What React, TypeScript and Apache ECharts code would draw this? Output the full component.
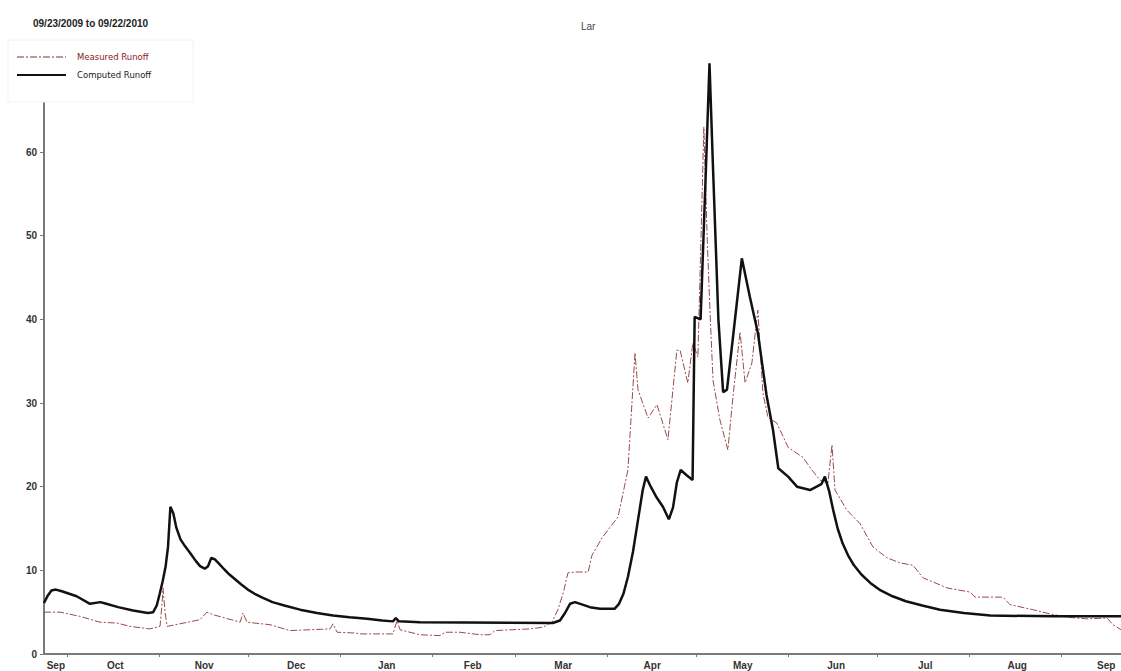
import React, { useEffect, useRef } from "react";
import * as echarts from "echarts";

// Days since 09/23/2009
const computedDays = [0, 1.3, 2.5, 4, 6, 11, 15.5, 19, 21, 25, 30, 35, 36.8, 38, 39, 40, 41, 41.8, 42.6, 43.6, 44.6, 46, 47.5, 49.2, 51.2, 52.6, 54.2, 55.3, 56.4, 57.6, 59.2, 60.8, 62.5, 64.5, 66.5, 68.7, 71, 73.8, 77, 81, 86.3, 92, 97.4, 103, 108.9, 114, 117.6, 118.6, 119.6, 126.7, 171.5, 173.9, 175.6, 177.3, 179, 184, 187.4, 192.3, 193.8, 195.3, 196.8, 198.5, 200.2, 201.8, 202.9, 204.5, 206.5, 208.6, 210.6, 212, 213.3, 214.6, 216.5, 218.6, 219.3, 221.3, 223.1, 224.3, 225.5, 227.3, 228.9, 230.2, 232.2, 235.2, 237.9, 240.6, 243.5, 245.7, 247.5, 250.8, 253.8, 258.2, 262, 263.2, 264.6, 266, 267.5, 269.2, 271, 273, 275.5, 278.5, 282, 286, 290.5, 296, 302, 310, 319, 340, 363];
const computedValues = [6.1, 7.0, 7.6, 7.7, 7.5, 6.9, 6.0, 6.2, 6.0, 5.6, 5.2, 4.9, 5.0, 5.8, 7.2, 8.7, 10.5, 12.8, 17.6, 16.8, 15.1, 13.7, 12.9, 12.1, 11.1, 10.5, 10.2, 10.5, 11.5, 11.3, 10.7, 10.1, 9.5, 8.9, 8.3, 7.7, 7.2, 6.7, 6.2, 5.8, 5.3, 4.9, 4.6, 4.4, 4.2, 4.0, 3.9, 4.3, 3.9, 3.8, 3.7, 4.0, 4.9, 6.0, 6.2, 5.6, 5.4, 5.4, 6.0, 7.2, 9.2, 12.2, 16.0, 19.6, 21.2, 20.0, 18.7, 17.6, 16.1, 17.5, 20.5, 22.0, 21.4, 20.8, 40.3, 40.0, 58, 70.6, 58, 40, 31.3, 31.6, 37.8, 47.3, 42.7, 38.4, 31, 26.8, 22.2, 21.2, 20.0, 19.6, 20.3, 21.2, 19.5, 17.2, 15.0, 13.2, 11.8, 10.6, 9.5, 8.5, 7.6, 6.9, 6.3, 5.8, 5.3, 4.9, 4.6, 4.5, 4.5];

const measuredDays = [0, 5.4, 12.1, 18.9, 24.6, 29, 35.7, 39.1, 39.8, 40.1, 40.8, 41.5, 52.6, 54.9, 57, 66.1, 67.1, 68.4, 76.2, 82.9, 96.4, 97.4, 98.8, 105.2, 106.5, 117.6, 119, 120, 126.7, 133.5, 135.2, 140.2, 147, 150.3, 152, 163.8, 168.2, 171.2, 173.2, 175, 176.6, 179, 183.4, 184.7, 188.1, 193.5, 196.8, 199.2, 200.2, 203.6, 206.6, 210.3, 213.3, 214.4, 217, 218.7, 220.4, 222.4, 223.5, 224.5, 225.5, 227.8, 230.5, 232.2, 234.6, 236.3, 238.6, 240.6, 242.3, 244, 247, 250.8, 255.8, 258.8, 261.5, 264.2, 265.6, 266.6, 270.6, 275, 279.4, 284.1, 288.5, 292.9, 296.3, 304.4, 312.1, 313.8, 323.2, 325.6, 333.3, 339, 344.8, 351.5, 358.3, 360.3, 363];
const measuredValues = [5.0, 5.0, 4.5, 3.8, 3.7, 3.3, 3.0, 3.3, 6.0, 7.9, 5.0, 3.3, 4.1, 5.0, 4.7, 3.8, 4.9, 3.8, 3.5, 2.8, 3.0, 3.6, 2.6, 2.5, 2.4, 2.4, 4.0, 2.9, 2.3, 2.2, 2.6, 2.6, 2.3, 2.3, 2.8, 3.0, 3.2, 3.8, 5.3, 7.3, 9.7, 9.8, 9.8, 11.8, 13.9, 16.4, 22, 36, 31.6, 28.2, 29.8, 25.6, 36.3, 36.3, 32.4, 37.2, 35.5, 63, 50, 40.7, 32.7, 28, 24.4, 30.7, 38.5, 32.4, 34.8, 41.1, 31.2, 28.3, 27.6, 24.7, 23.5, 22, 20.8, 20.4, 25, 19.6, 17.2, 15.6, 12.8, 11.5, 10.9, 10.6, 9.1, 7.9, 7.4, 6.8, 6.8, 5.9, 5.3, 4.8, 4.4, 4.2, 4.3, 3.5, 2.9];

const monthTickDays = [8, 39, 69, 100, 131, 159, 190, 220, 251, 281, 312, 343];
const monthLabelDays = [4, 24, 54, 85, 115.5, 144.5, 175, 205, 235.5, 267, 297, 328, 358];
const monthNames = ["Sep", "Oct", "Nov", "Dec", "Jan", "Feb", "Mar", "Apr", "May", "Jun", "Jul", "Aug", "Sep"];

const yTicks = [0, 10, 20, 30, 40, 50, 60];

export default function App() {
  const ref = useRef<HTMLDivElement>(null);
  useEffect(() => {
    if (!ref.current) return;
    const chart = echarts.init(ref.current, null, { renderer: "svg" });
    const font = "'Liberation Sans', Arial, sans-serif";
    chart.setOption({
      animation: false,
      backgroundColor: "#ffffff",
      title: [
        {
          text: "09/23/2009 to 09/22/2010",
          left: 28,
          top: 13,
          textStyle: { fontSize: 10, fontWeight: "bold", color: "#222", fontFamily: font },
        },
        {
          text: "Lar",
          left: 576,
          top: 16,
          textStyle: { fontSize: 10, fontWeight: "normal", color: "#444", fontFamily: font },
        },
      ],
      grid: { left: 44, right: 0, top: 60, bottom: 17, containLabel: false },
      xAxis: {
        type: "value",
        min: 0,
        max: 363,
        splitLine: { show: false },
        axisLine: { show: true, lineStyle: { color: "#7a7a7a", width: 2 } },
        axisTick: {
          show: true,
          customValues: monthTickDays,
          length: 3,
          lineStyle: { color: "#7a7a7a", width: 1 },
        },
        axisLabel: {
          customValues: monthLabelDays,
          margin: 6,
          fontSize: 10,
          fontWeight: "bold",
          color: "#333",
          fontFamily: font,
          formatter: (v: number) => {
            let best = 0;
            let bd = Infinity;
            monthLabelDays.forEach((d, i) => {
              const dd = Math.abs(d - v);
              if (dd < bd) {
                bd = dd;
                best = i;
              }
            });
            return monthNames[best];
          },
        },
      },
      yAxis: {
        type: "value",
        min: 0,
        max: 71,
        splitLine: { show: false },
        axisLine: { show: true, lineStyle: { color: "#7a7a7a", width: 2 } },
        axisTick: { show: true, customValues: yTicks, length: 4, lineStyle: { color: "#7a7a7a" } },
        axisLabel: {
          customValues: yTicks,
          margin: 7,
          fontSize: 10,
          fontWeight: "bold",
          color: "#333",
          fontFamily: font,
        },
      },
      series: [
        {
          name: "Measured Runoff",
          type: "line",
          showSymbol: false,
          data: measuredDays.map((d, i) => [d, measuredValues[i]]),
          lineStyle: { color: "#9a4a4a", width: 1, type: [7, 2, 2, 2] },
          z: 2,
        },
        {
          name: "Computed Runoff",
          type: "line",
          showSymbol: false,
          data: computedDays.map((d, i) => [d, computedValues[i]]),
          lineStyle: { color: "#111", width: 2.5 },
          z: 3,
        },
      ],
      graphic: [
        {
          type: "rect",
          z: 100,
          zlevel: 1,
          shape: { x: 8, y: 40, width: 185, height: 62 },
          style: { fill: "#ffffff", stroke: "#f2f2f2", lineWidth: 1 },
        },
        {
          type: "line",
          z: 101,
          zlevel: 1,
          shape: { x1: 17, y1: 57, x2: 66, y2: 57 },
          style: { stroke: "#8b2e2e", lineWidth: 1, lineDash: [7, 2, 2, 2] },
        },
        {
          type: "text",
          z: 101,
          zlevel: 1,
          x: 77,
          y: 57,
          style: {
            text: "Measured Runoff",
            fill: "#8b1a1a",
            fontSize: 8.5,
            fontFamily: "'DejaVu Sans', sans-serif",
            verticalAlign: "middle",
          },
        },
        {
          type: "line",
          z: 101,
          zlevel: 1,
          shape: { x1: 17, y1: 75, x2: 66, y2: 75 },
          style: { stroke: "#111", lineWidth: 2 },
        },
        {
          type: "text",
          z: 101,
          zlevel: 1,
          x: 77,
          y: 75,
          style: {
            text: "Computed Runoff",
            fill: "#222",
            fontSize: 8.5,
            fontFamily: "'DejaVu Sans', sans-serif",
            verticalAlign: "middle",
          },
        },
      ],
    });
    return () => chart.dispose();
  }, []);
  return <div ref={ref} style={{ width: 1121, height: 671, position: "absolute", left: 0, top: 0 }} />;
}
